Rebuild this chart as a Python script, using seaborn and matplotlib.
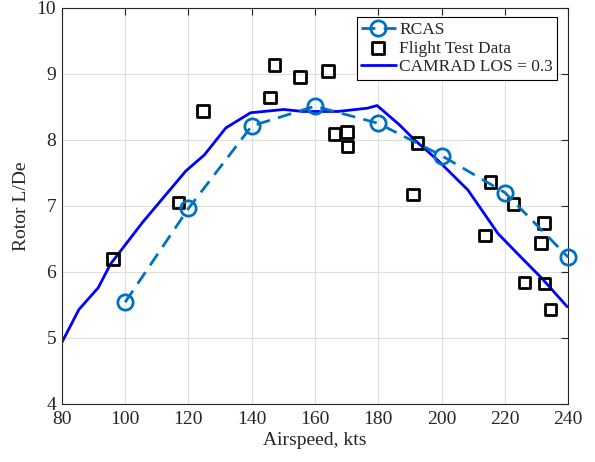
import matplotlib
matplotlib.use("Agg")
import matplotlib.pyplot as plt
import seaborn as sns
import numpy as np

# RCAS predictions
rcas_speed = [100, 120, 140, 160, 180, 200, 220, 240]
rcas_lde = [5.54, 6.96, 8.21, 8.51, 8.25, 7.76, 7.20, 6.22]

# Flight test measurements
flt_speed = [96.2, 116.9, 124.5, 145.7, 147.2, 155.2, 164.0, 166.2, 170.1, 170.3,
             191.0, 192.4, 213.7, 215.4, 222.7, 226.2, 231.3, 232.3, 232.5, 234.4]
flt_lde = [6.19, 7.05, 8.44, 8.64, 9.13, 8.95, 9.04, 8.09, 8.12, 7.90,
           7.17, 7.95, 6.55, 7.36, 7.03, 5.84, 6.44, 6.74, 5.82, 5.43]

# CAMRAD, LOS = 0.3
cam_speed = [80, 85.4, 91.5, 95.4, 105.5, 119.2, 125, 131.8, 139.6, 150.1, 156.1,
             167.2, 176.6, 179.6, 186.6, 191.4, 198.8, 208.3, 217.8, 225.1, 231.5, 239.7]
cam_lde = [4.93, 5.43, 5.76, 6.12, 6.75, 7.53, 7.77, 8.18, 8.41, 8.46, 8.43,
           8.43, 8.48, 8.52, 8.23, 8.00, 7.69, 7.24, 6.58, 6.22, 5.91, 5.47]

sns.set_theme(style="whitegrid")
plt.rcParams["font.family"] = ["Liberation Serif", "DejaVu Serif"]

fig, ax = plt.subplots(figsize=(5.95, 4.62), dpi=100)
fig.subplots_adjust(left=0.104, right=0.955, top=0.983, bottom=0.126)

sns.lineplot(x=rcas_speed, y=rcas_lde, ax=ax, color="#0072BD", linestyle="--",
             linewidth=2, marker="o", markersize=11, markerfacecolor="none",
             markeredgecolor="#0072BD", markeredgewidth=2, label="RCAS",
             sort=False, estimator=None, dashes=False, clip_on=False, zorder=4)
ax.lines[-1].set_dashes([5, 3])
sns.scatterplot(x=flt_speed, y=flt_lde, ax=ax, marker="s", s=70,
                facecolor="none", edgecolor="black", linewidth=2,
                label="Flight Test Data", zorder=3)
sns.lineplot(x=cam_speed, y=cam_lde, ax=ax, color="#0000FF", linewidth=2,
             label="CAMRAD LOS = 0.3", sort=False, estimator=None, zorder=2)

ax.set_xlim(80, 240)
ax.set_ylim(4, 10)
ax.set_xticks(np.arange(80, 241, 20))
ax.set_yticks(np.arange(4, 11, 1))
ax.set_xlabel("Airspeed, kts", fontsize=14, labelpad=3)
ax.set_ylabel("Rotor L/De", fontsize=14, labelpad=5)
ax.tick_params(axis="both", labelsize=14, direction="in", length=5, width=0.8,
               color="#262626", top=True, right=True, labelcolor="#262626")
ax.tick_params(axis="x", pad=5)
ax.tick_params(axis="y", pad=4)
ax.grid(True, color="#dedede", linewidth=0.8)
for s in ax.spines.values():
    s.set_color("#262626")
    s.set_linewidth(0.8)

leg = ax.legend(loc="upper right", bbox_to_anchor=(0.985, 0.985), fontsize=12.5,
                frameon=True, fancybox=False, edgecolor="black", framealpha=1,
                handlelength=2.0, handletextpad=0.2, borderpad=0.25,
                labelspacing=0.15, borderaxespad=0.2)
leg.get_frame().set_linewidth(0.8)
leg.set_zorder(5)

fig.savefig("out.png", dpi=100)
